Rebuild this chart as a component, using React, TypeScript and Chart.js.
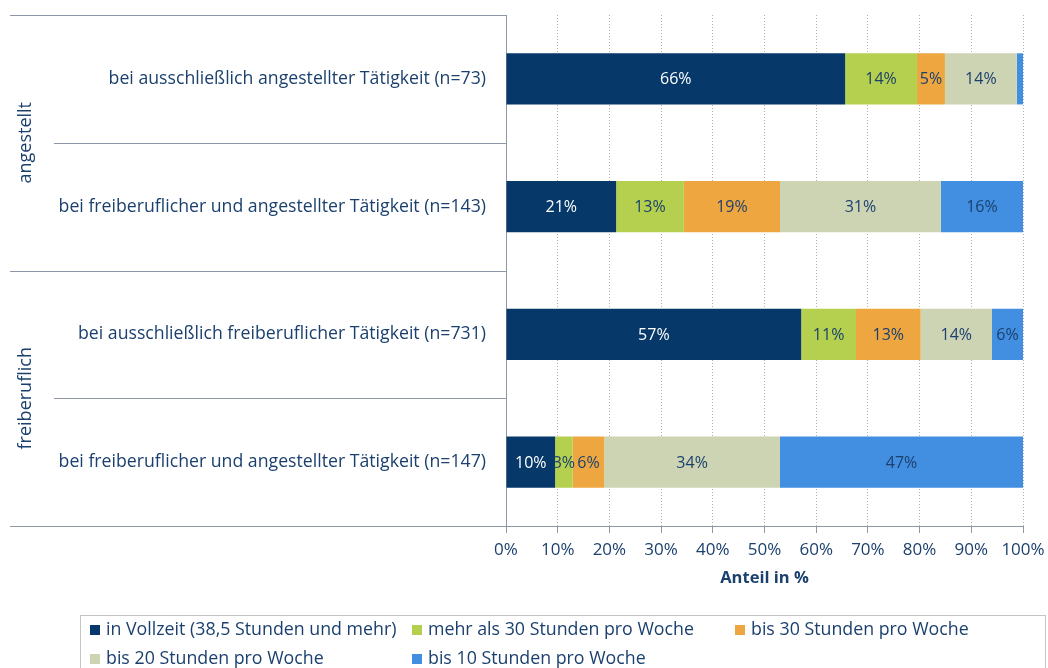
import React, { useEffect, useRef } from 'react';
import { Chart, registerables } from 'chart.js';

Chart.register(...registerables);

// ---- data ----
const categories = [
  'bei ausschließlich angestellter Tätigkeit (n=73)',
  'bei freiberuflicher und angestellter Tätigkeit (n=143)',
  'bei ausschließlich freiberuflicher Tätigkeit (n=731)',
  'bei freiberuflicher und angestellter Tätigkeit (n=147)',
];
const groupNames = ['angestellt', 'freiberuflich'];
const groupSizes = [2, 2];

const seriesNames = [
  'in Vollzeit (38,5 Stunden und mehr)',
  'mehr als 30 Stunden pro Woche',
  'bis 30 Stunden pro Woche',
  'bis 20 Stunden pro Woche',
  'bis 10 Stunden pro Woche',
];
const vollzeit = [65.6, 21.3, 57.1, 9.5];
const mehrAls30 = [13.9, 13.1, 10.6, 3.4];
const bis30 = [5.4, 18.6, 12.5, 6.1];
const bis20 = [13.9, 31.1, 13.8, 34.0];
const bis10 = [1.2, 15.9, 6.0, 47.0];
const seriesValues = [vollzeit, mehrAls30, bis30, bis20, bis10];

const seriesColors = ['#06396a', '#b5d04e', '#eea740', '#cdd4b4', '#428ee0'];
const xTickValues = [0, 10, 20, 30, 40, 50, 60, 70, 80, 90, 100];
const axisTitle = 'Anteil in %';

// ---- styles ----
const FONT = "'Open Sans', 'Noto Sans', sans-serif";
const TEXT = '#1b406e';
const LINE = '#8d97a8';

const structurePlugin = {
  id: 'structure',
  afterDraw(chart: any) {
    const { ctx, chartArea, scales } = chart;
    const y = scales.y;
    const n = categories.length;
    const band = (y.bottom - y.top) / n;
    const groupStarts = new Set<number>();
    let acc = 0;
    groupStarts.add(0);
    groupSizes.forEach((s) => {
      acc += s;
      groupStarts.add(acc);
    });
    ctx.save();
    ctx.strokeStyle = LINE;
    ctx.lineWidth = 1;
    for (let k = 0; k <= n; k++) {
      const yy = Math.round(y.top + k * band) + 0.5;
      const x0 = groupStarts.has(k) ? 10 : 54;
      ctx.beginPath();
      ctx.moveTo(x0, yy);
      ctx.lineTo(chartArea.left, yy);
      ctx.stroke();
    }
    // group labels
    ctx.fillStyle = TEXT;
    ctx.font = `18px ${FONT}`;
    ctx.textAlign = 'center';
    ctx.textBaseline = 'middle';
    let start = 0;
    groupNames.forEach((g, i) => {
      const end = start + groupSizes[i];
      const cy = y.top + ((start + end) / 2) * band;
      ctx.save();
      ctx.translate(26, cy);
      ctx.rotate(-Math.PI / 2);
      ctx.fillText(g, 0, 0);
      ctx.restore();
      start = end;
    });
    ctx.restore();
  },
};

const valueLabelPlugin = {
  id: 'valueLabels',
  afterDatasetsDraw(chart: any) {
    const { ctx } = chart;
    ctx.save();
    ctx.font = `16px ${FONT}`;
    ctx.textAlign = 'center';
    ctx.textBaseline = 'middle';
    chart.data.datasets.forEach((ds: any, di: number) => {
      const meta = chart.getDatasetMeta(di);
      meta.data.forEach((bar: any, i: number) => {
        const v = ds.data[i];
        if (v < 2) return;
        ctx.fillStyle = di === 0 ? '#ffffff' : TEXT;
        ctx.fillText(`${Math.round(v)}%`, (bar.x + bar.base) / 2, bar.y + 1);
      });
    });
    ctx.restore();
  },
};

const legendPlugin = {
  id: 'customLegend',
  afterDraw(chart: any) {
    const { ctx } = chart;
    ctx.save();
    ctx.strokeStyle = '#c4c4c4';
    ctx.lineWidth = 1;
    ctx.strokeRect(80.5, 615.5, 965, 80);
    const cols = [90, 412, 735];
    const rows = [630, 659];
    ctx.font = `17.8px ${FONT}`;
    ctx.textBaseline = 'middle';
    ctx.textAlign = 'left';
    seriesNames.forEach((name, i) => {
      const cx = cols[i % 3];
      const cy = rows[Math.floor(i / 3)];
      ctx.fillStyle = seriesColors[i];
      ctx.fillRect(cx, cy - 5, 10, 10);
      ctx.fillStyle = TEXT;
      ctx.fillText(name, cx + 16, cy);
    });
    ctx.restore();
  },
};

export default function App() {
  const canvasRef = useRef<HTMLCanvasElement | null>(null);

  useEffect(() => {
    if (!canvasRef.current) return;
    const chart = new Chart(canvasRef.current, {
      type: 'bar',
      data: {
        labels: categories,
        datasets: seriesNames.map((name, i) => ({
          label: name,
          data: seriesValues[i],
          backgroundColor: seriesColors[i],
          borderWidth: 0,
          barPercentage: 0.4,
          categoryPercentage: 1,
        })),
      },
      options: {
        indexAxis: 'y',
        animation: false,
        responsive: true,
        maintainAspectRatio: false,
        layout: { padding: { left: 0, top: 15, right: 25, bottom: 74 } },
        plugins: {
          legend: { display: false },
          tooltip: { enabled: false },
        },
        scales: {
          x: {
            stacked: true,
            min: 0,
            max: 100,
            afterFit: (s: any) => {
              s.height = 68;
              s.paddingLeft = 0;
              s.paddingRight = 0;
            },
            afterBuildTicks: (s: any) => {
              s.ticks = xTickValues.map((v) => ({ value: v }));
            },
            ticks: {
              callback: (v: any) => `${v}%`,
              color: TEXT,
              font: { family: FONT, size: 17 },
              padding: 7,
              maxRotation: 0,
            },
            grid: {
              color: '#b0b0b0',
              lineWidth: 1,
              drawTicks: true,
              tickLength: 7,
              tickColor: LINE,
              tickBorderDash: [],
            },
            border: { display: true, color: LINE, dash: [1, 2] },
            title: {
              display: true,
              text: axisTitle,
              color: TEXT,
              font: { family: FONT, size: 16.5, weight: 'bold' },
              padding: { top: 0, bottom: 6 },
            },
          },
          y: {
            stacked: true,
            afterFit: (s: any) => {
              s.width = 506;
              s.paddingTop = 0;
              s.paddingBottom = 0;
            },
            ticks: {
              color: TEXT,
              font: { family: FONT, size: 17.7 },
              padding: 20,
              autoSkip: false,
            },
            grid: { display: false, drawTicks: false },
            border: { display: true, color: LINE },
          },
        },
      },
      plugins: [structurePlugin, valueLabelPlugin, legendPlugin],
    });
    return () => chart.destroy();
  }, []);

  return (
    <div style={{ position: 'fixed', left: 0, top: 0, width: 1048, height: 668, background: '#ffffff' }}>
      <canvas ref={canvasRef} />
    </div>
  );
}
